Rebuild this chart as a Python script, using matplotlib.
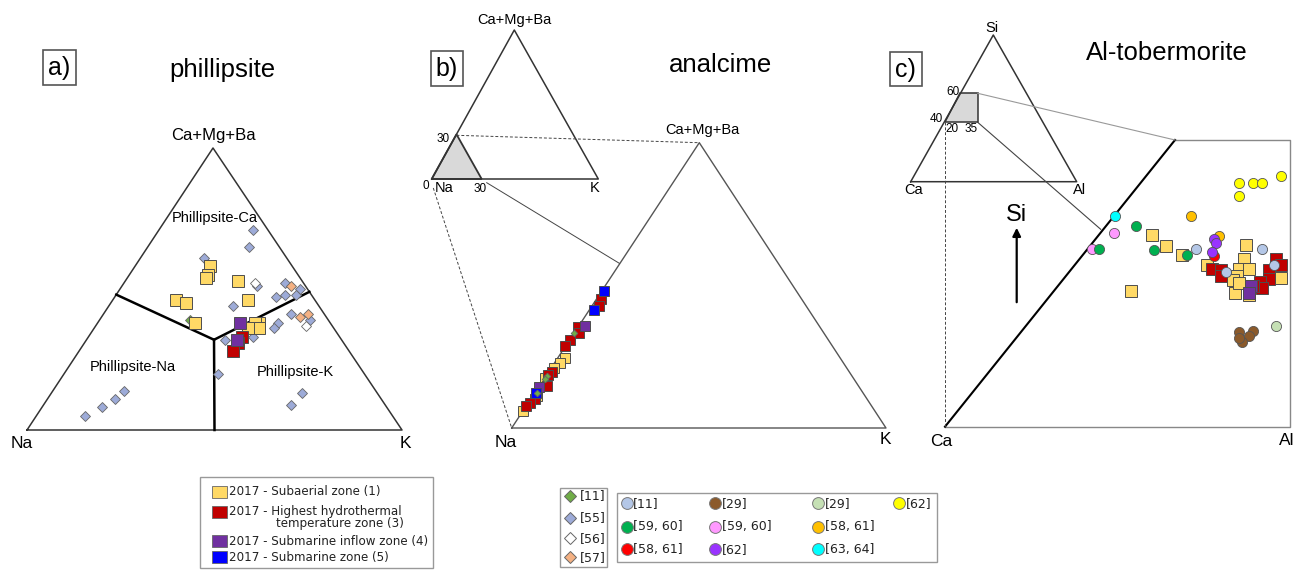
import numpy as np
import matplotlib.pyplot as plt
from matplotlib.patches import Polygon, Rectangle

plt.rcParams['font.family'] = ['Liberation Sans', 'DejaVu Sans']

# ---------------- a) phillipsite : Ca+Mg+Ba and K in %, Na is the rest
a55_ca = [71, 65, 61, 51, 52, 50, 48, 48, 47, 44, 41, 38, 36, 39, 33, 32, 20, 14, 11, 8, 5, 13, 9]
a55_k = [25, 27, 17, 36, 43, 48, 48, 45, 43, 33, 50, 48, 48, 56, 44, 37, 41, 19, 18, 16, 13, 67, 66]
a56_ca = [52, 37]
a56_k = [35, 56]
a57_ca = [51, 40, 41]
a57_k = [45, 53, 54.5]
a11_ca = [39]
a11_k = [24]
a_sub_ca = [58, 55, 54, 53, 46, 45, 46, 38, 38, 38, 36, 36]
a_sub_k = [20, 21, 21, 30, 17, 20, 36, 26, 43, 42, 44, 41]
a_hyd_ca = [33, 31, 28]
a_hyd_k = [41, 41, 41]
a_inf_ca = [38, 32]
a_inf_k = [38, 40]

# ---------------- b) analcime : Na corner, Ca+Mg+Ba and K in % (0-30 window)
b_sub_ca = [7.4, 6.8, 6.3, 5.25, 3.4, 1.8]
b_sub_k = [0.6, 0.5, 0.2, 0.0, 0.3, 0.0]
b_hyd_ca = [13.6, 12.8, 10.6, 10.0, 9.3, 8.6, 5.9, 5.6, 4.4, 3.0, 2.6, 2.3]
b_hyd_k = [0.35, 0.6, 0.0, 0.4, 0.0, 0.0, 0.3, 0.1, 0.6, 0.4, 0.2, 0.0]
b_inf_ca = [10.7, 4.3]
b_inf_k = [0.5, 0.0]
b_sm_ca = [14.4, 12.4, 3.7]
b_sm_k = [0.2, 0.4, 0.1]
b11_ca = [10.0, 5.5, 5.2, 3.7]
b11_k = [0.0, 0.1, 0.1, 0.2]

# ---------------- c) Al-tobermorite : Al and Si in %
c_sub_al = [29.0, 29.6, 30.3, 28.1, 33.1, 31.4, 33.0, 32.8, 33.2, 32.7, 32.5, 32.6, 33.2, 34.6, 32.8]
c_sub_si = [53.4, 52.6, 52.0, 49.5, 52.7, 51.3, 51.7, 51.0, 51.0, 50.5, 50.2, 49.3, 49.2, 50.4, 50.0]
c_hyd_al = [31.6, 32.0, 32.0, 34.4, 34.6, 34.1, 34.1, 33.7, 33.8, 33.4]
c_hyd_si = [51.0, 50.9, 50.5, 51.7, 51.3, 50.9, 50.3, 50.1, 49.7, 49.8]
c_inf_al = [33.3, 33.2]
c_inf_si = [49.8, 49.3]

# literature, circles: (label, colour, Al, Si)
c_refs = [
    ('[29]', '#c5e0b4', [34.4], [47.0]),
    ('[29]', '#8b5a2b', [32.8, 33.4, 33.2, 32.9, 32.8], [46.6, 46.7, 46.3, 45.9, 46.2]),
    ('[62]', '#ffff00', [32.8, 33.4, 33.8, 34.6, 32.8], [57.0, 57.0, 57.0, 57.5, 56.1]),
    ('[63, 64]', '#00ffff', [27.4], [54.7]),
    ('[59, 60]', '#ff99ff', [27.35, 26.4], [53.5, 52.4]),
    ('[59, 60]', '#00b050', [28.3, 26.7, 29.1, 30.5], [54.0, 52.4, 52.3, 52.0]),
    ('[58, 61]', '#ffc000', [30.7, 31.9], [54.7, 53.3]),
    ('[58, 61]', '#ff0000', [31.7], [51.9]),
    ('[62]', '#9933ff', [31.7, 31.8, 31.6], [53.1, 52.8, 52.2]),
    ('[11]', '#b4c7e7', [30.9, 33.8, 32.2, 34.3], [52.4, 52.4, 50.8, 51.3]),
]

# legend entries
zone_labels = ['2017 - Subaerial zone (1)', '2017 - Highest hydrothermal',
               '2017 - Submarine inflow zone (4)', '2017 - Submarine zone (5)']
zone_colors = ['#ffd966', '#c00000', '#7030a0', '#0000ff']
dia_labels = ['[11]', '[55]', '[56]', '[57]']
dia_colors = ['#70ad47', '#9dabd8', '#ffffff', '#f4b183']
circ_labels = ['[11]', '[29]', '[29]', '[62]',
               '[59, 60]', '[59, 60]', '[58, 61]',
               '[58, 61]', '[62]', '[63, 64]']
circ_colors = ['#b4c7e7', '#8b5a2b', '#c5e0b4', '#ffff00',
               '#00b050', '#ff99ff', '#ffc000',
               '#ff0000', '#9933ff', '#00ffff']


def tern(corners, ca, k, top=100.0):
    # corners: Na, Ca, K vertex positions on the page
    na_p, ca_p, k_p = [np.array(c, float) for c in corners]
    ca = np.asarray(ca, float) / top
    k = np.asarray(k, float) / top
    x = na_p[0] + ca * (ca_p[0] - na_p[0]) + k * (k_p[0] - na_p[0])
    y = na_p[1] + ca * (ca_p[1] - na_p[1]) + k * (k_p[1] - na_p[1])
    return x, y


C_X0, C_X1, C_Y0, C_Y1 = 945, 1290, 426.7, 140


def box_c(al, si):
    x = C_X0 + (np.asarray(al, float) - 20) / 15 * (C_X1 - C_X0)
    y = C_Y0 - (np.asarray(si, float) - 40) / 20 * (C_Y0 - C_Y1)
    return x, y


fig = plt.figure(figsize=(12.95, 5.71), dpi=100)
ax = fig.add_axes([0, 0, 1, 1])
ax.set_xlim(0, 1295)
ax.set_ylim(571, 0)
ax.axis('off')

EDGE = '#333333'
sq = dict(marker='s', ls='none', mec='#4d4d4d', mew=0.7)
dm = dict(marker='D', ls='none', mec='#666666', mew=0.6)


def panel_tag(x0, y0, x1, y1, s):
    ax.add_patch(Rectangle((x0, y0), x1 - x0, y1 - y0, fill=False, ec='#555555', lw=1.2))
    ax.text((x0 + x1) / 2, (y0 + y1) / 2 + 1, s, fontsize=18, ha='center', va='center')


# ================= a) phillipsite
A = [(27, 430), (213, 148), (402, 430)]
tri = np.array(A + [A[0]])
ax.plot(tri[:, 0], tri[:, 1], color=EDGE, lw=1.1)
jx, jy = tern(A, [32, 48], [34, 0])
ax.plot(jx, jy, color='k', lw=1.8)
jx, jy = tern(A, [32, 49], [34, 51])
ax.plot(jx, jy, color='k', lw=1.8)
jx, jy = tern(A, [32, 0], [34, 50])
ax.plot(jx, jy, color='k', lw=1.8)

ax.plot(*tern(A, a55_ca, a55_k), ms=5.3, mfc=dia_colors[1], **dm)
ax.plot(*tern(A, a56_ca, a56_k), ms=5.3, mfc=dia_colors[2], **dm)
ax.plot(*tern(A, a57_ca, a57_k), ms=5.3, mfc=dia_colors[3], **dm)
ax.plot(*tern(A, a11_ca, a11_k), ms=5.3, mfc=dia_colors[0], **dm)
ax.plot(*tern(A, a_sub_ca, a_sub_k), ms=8.5, mfc=zone_colors[0], **sq)
ax.plot(*tern(A, a_hyd_ca, a_hyd_k), ms=8.5, mfc=zone_colors[1], **sq)
ax.plot(*tern(A, a_inf_ca, a_inf_k), ms=8.5, mfc=zone_colors[2], **sq)

ax.text(213, 140, 'Ca+Mg+Ba', fontsize=12, ha='center', va='baseline')
ax.text(22, 448, 'Na', fontsize=12.5, ha='center', va='baseline')
ax.text(405, 448, 'K', fontsize=12.5, ha='center', va='baseline')
ax.text(215, 218, 'Phillipsite-Ca', fontsize=10.5, ha='center', va='center')
ax.text(133, 367, 'Phillipsite-Na', fontsize=10.5, ha='center', va='center')
ax.text(295, 372, 'Phillipsite-K', fontsize=10.5, ha='center', va='center')
ax.text(222, 70, 'phillipsite', fontsize=18.5, ha='center', va='center')
panel_tag(43.3, 50, 75.7, 85, 'a)')

# ================= b) analcime
B_in = [(431.7, 179), (514.3, 30), (598.3, 179)]
tri = np.array(B_in + [B_in[0]])
ax.plot(tri[:, 0], tri[:, 1], color=EDGE, lw=1.1)
sx, sy = tern(B_in, [0, 30, 0], [0, 0, 30])
ax.add_patch(Polygon(np.c_[sx, sy], closed=True, fc='#d9d9d9', ec=EDGE, lw=1.3))

B = [(511.7, 428), (699.3, 142.7), (886, 428)]
tri = np.array(B + [B[0]])
ax.plot(tri[:, 0], tri[:, 1], color='#555555', lw=1.0)

# guide lines from the inset to the enlarged window
ax.plot([sx[1], B[1][0]], [sy[1] + 1, B[1][1]], color='#444444', lw=0.7, ls=(0, (3, 2)))
ax.plot([433.3, B[0][0]], [188, B[0][1]], color='#444444', lw=0.7, ls=(0, (3, 2)))
ax.plot([486.7, 619.3], [182.7, 263.3], color='#444444', lw=0.7)

ax.plot(*tern(B, b_sub_ca, b_sub_k, top=30), ms=7, mfc=zone_colors[0], **sq)
ax.plot(*tern(B, b_hyd_ca, b_hyd_k, top=30), ms=7, mfc=zone_colors[1], **sq)
ax.plot(*tern(B, b_inf_ca, b_inf_k, top=30), ms=7, mfc=zone_colors[2], **sq)
ax.plot(*tern(B, b_sm_ca, b_sm_k, top=30), ms=7, mfc=zone_colors[3], **sq)
ax.plot(*tern(B, b11_ca, b11_k, top=30), ms=3.4, mfc=dia_colors[0], **dm)

ax.text(514.3, 24, 'Ca+Mg+Ba', fontsize=10.5, ha='center', va='baseline')
ax.text(443.3, 142, '30', fontsize=8.5, ha='center', va='baseline')
ax.text(425.7, 189, '0', fontsize=8.5, ha='center', va='baseline')
ax.text(444, 192, 'Na', fontsize=10.5, ha='center', va='baseline')
ax.text(480, 192, '30', fontsize=8.5, ha='center', va='baseline')
ax.text(595, 192, 'K', fontsize=10.5, ha='center', va='baseline')
ax.text(702.7, 134, 'Ca+Mg+Ba', fontsize=10.5, ha='center', va='baseline')
ax.text(506, 447, 'Na', fontsize=12.5, ha='center', va='baseline')
ax.text(885, 444, 'K', fontsize=12.5, ha='center', va='baseline')
ax.text(720, 65, 'analcime', fontsize=18.5, ha='center', va='center')
panel_tag(431, 50.7, 462.7, 86, 'b)')

# ================= c) Al-tobermorite
C_in = [(910.7, 181.7), (993.3, 35), (1076.7, 181.7)]
tri = np.array(C_in + [C_in[0]])
ax.plot(tri[:, 0], tri[:, 1], color=EDGE, lw=1.1)
quad = [(960.3, 93.3), (977.7, 93.3), (977.7, 122.3), (944.5, 122.3)]
ax.add_patch(Polygon(quad, closed=True, fc='#d9d9d9', ec=EDGE, lw=1.1))

fx, fy = box_c([30, 35, 35, 20], [60, 60, 40, 40])
ax.plot(fx, fy, color='#888888', lw=1.0)
dx, dy = box_c([20, 30], [40, 60])
ax.plot(dx, dy, color='k', lw=1.5)

ax.plot([977.7, fx[0]], [93.3, fy[0]], color='#999999', lw=0.8)
ax.plot([977.7, 1100.7], [122.3, 229.3], color='#444444', lw=0.8)
ax.plot([945, 945], [122.3, C_Y0], color='#444444', lw=0.7, ls=(0, (3, 2)))

ax.plot(*box_c(c_sub_al, c_sub_si), ms=8.5, mfc=zone_colors[0], **sq)
ax.plot(*box_c(c_hyd_al, c_hyd_si), ms=8.5, mfc=zone_colors[1], **sq)
ax.plot(*box_c(c_inf_al, c_inf_si), ms=8.5, mfc=zone_colors[2], **sq)
for lab, col, al, si in c_refs:
    ax.plot(*box_c(al, si), marker='o', ls='none', ms=7.3, mfc=col, mec='#555555', mew=0.6)

ax.text(991.7, 32, 'Si', fontsize=10.5, ha='center', va='baseline')
ax.text(952.7, 95, '60', fontsize=8.5, ha='center', va='baseline')
ax.text(936.7, 122, '40', fontsize=8.5, ha='center', va='baseline')
ax.text(952, 132, '20', fontsize=8.5, ha='center', va='baseline')
ax.text(971, 132, '35', fontsize=8.5, ha='center', va='baseline')
ax.text(913.3, 194, 'Ca', fontsize=10.5, ha='center', va='baseline')
ax.text(1080, 194, 'Al', fontsize=10.5, ha='center', va='baseline')
ax.text(941.7, 446, 'Ca', fontsize=12.5, ha='center', va='baseline')
ax.text(1279, 445, 'Al', fontsize=12.5, ha='left', va='baseline')
ax.text(1016.7, 215, 'Si', fontsize=17, ha='center', va='center')
ax.annotate('', xy=(1016.7, 225), xytext=(1016.7, 305),
            arrowprops=dict(arrowstyle='-|>', color='k', lw=1.6, mutation_scale=12))
ax.text(1166.7, 53, 'Al-tobermorite', fontsize=18.5, ha='center', va='center')
panel_tag(890, 51.7, 921.7, 86, 'c)')

# ================= legends
LEG_FONT = 'DejaVu Sans'
ax.add_patch(Rectangle((200, 477), 233, 91, fill=False, ec='#999999', lw=1.0))
for y, col, lab in zip([492, 512, 541, 557], zone_colors, zone_labels):
    ax.add_patch(Rectangle((211.5, y - 6), 15, 12, fc=col, ec='#666666', lw=0.6))
    ax.text(229, y, lab, fontsize=8.6, family=LEG_FONT, color='#222222', va='center')
ax.text(276, 524, 'temperature zone (3)', fontsize=8.6, family=LEG_FONT,
        color='#222222', va='center')

ax.add_patch(Rectangle((560, 488), 47, 79, fill=False, ec='#999999', lw=1.0))
for y, col, lab in zip([496, 517.7, 538.3, 557.3], dia_colors, dia_labels):
    ax.plot(570, y, marker='D', ms=6.2, mfc=col, mec='#666666', mew=0.7)
    ax.text(580, y, lab, fontsize=9, family=LEG_FONT, color='#222222', va='center')

ax.add_patch(Rectangle((616.7, 493.3), 320.6, 68.4, fill=False, ec='#999999', lw=1.0))
col_x = [626.7, 715, 818.3, 899.3]
row_y = [503.3, 526.7, 549.3]
for i, (col, lab) in enumerate(zip(circ_colors, circ_labels)):
    if i < 4:
        r, c = 0, i
    else:
        r, c = 1 + (i - 4) // 3, (i - 4) % 3
    ax.plot(col_x[c], row_y[r], marker='o', ms=8.5, mfc=col, mec='#777777', mew=0.7)
    ax.text(col_x[c] + 6.5, row_y[r], lab, fontsize=9, family=LEG_FONT,
            color='#222222', va='center')

fig.savefig('out.png', dpi=100)
